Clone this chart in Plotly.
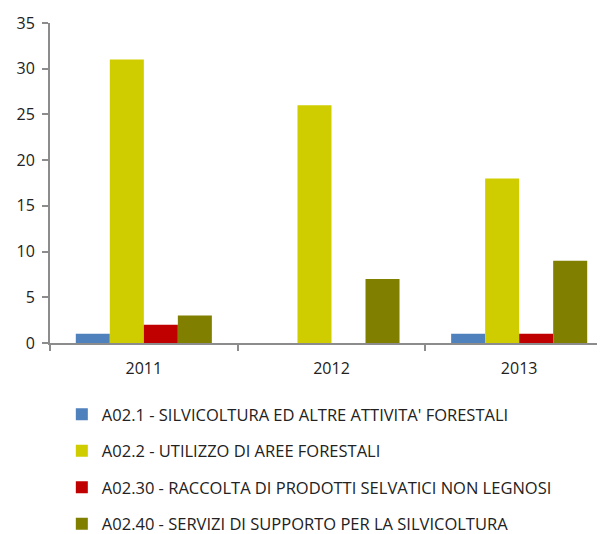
import plotly.graph_objects as go

years = ["2011", "2012", "2013"]
series_names = [
    "A02.1 - SILVICOLTURA ED ALTRE ATTIVITA' FORESTALI",
    "A02.2 - UTILIZZO DI AREE FORESTALI",
    "A02.30 - RACCOLTA DI PRODOTTI SELVATICI NON LEGNOSI",
    "A02.40 - SERVIZI DI SUPPORTO PER LA SILVICOLTURA",
]
a021 = [1, 0, 1]
a022 = [31, 26, 18]
a0230 = [2, 0, 1]
a0240 = [3, 7, 9]
colors = ["#4F81BD", "#CFCD00", "#C00000", "#807F00"]

fig = go.Figure()
for i, (name, vals) in enumerate(zip(series_names, [a021, a022, a0230, a0240])):
    fig.add_trace(go.Bar(
        x=years, y=vals, name=name, legendgroup=f"g{i}",
        marker=dict(color=colors[i], line=dict(width=0)),
    ))

font_fam = "Open Sans, Liberation Sans, sans-serif"
fig.update_layout(
    width=605, height=534,
    margin=dict(l=42, r=0, t=15, b=199, autoexpand=False),
    paper_bgcolor="white", plot_bgcolor="white",
    barmode="group", bargap=0.275, bargroupgap=0,
    font=dict(family=font_fam, size=16, color="#222222"),
    showlegend=True,
    legend=dict(
        x=0.021, y=-0.169, xanchor="left", yanchor="top",
        orientation="v", tracegroupgap=12,
        font=dict(size=16.5, color="#222222"),
        bgcolor="rgba(0,0,0,0)",
    ),
    xaxis=dict(
        range=[-0.5, 2.5], showline=True, linecolor="#8C8C8C", linewidth=2,
        ticks="outside", tickson="boundaries", ticklen=6, tickcolor="#8C8C8C",
        tickwidth=2, showgrid=False, zeroline=False, automargin=False,
        ticklabelstandoff=10,
        tickfont=dict(size=16, color="#222222"),
    ),
    yaxis=dict(
        range=[0, 35], dtick=5, showline=True, linecolor="#8C8C8C", linewidth=2,
        ticks="outside", ticklen=6, tickcolor="#8C8C8C", tickwidth=2,
        showgrid=False, zeroline=False, automargin=False,
        ticklabelstandoff=4,
        tickfont=dict(size=16, color="#222222"),
    ),
)
fig.write_html("out.html")
